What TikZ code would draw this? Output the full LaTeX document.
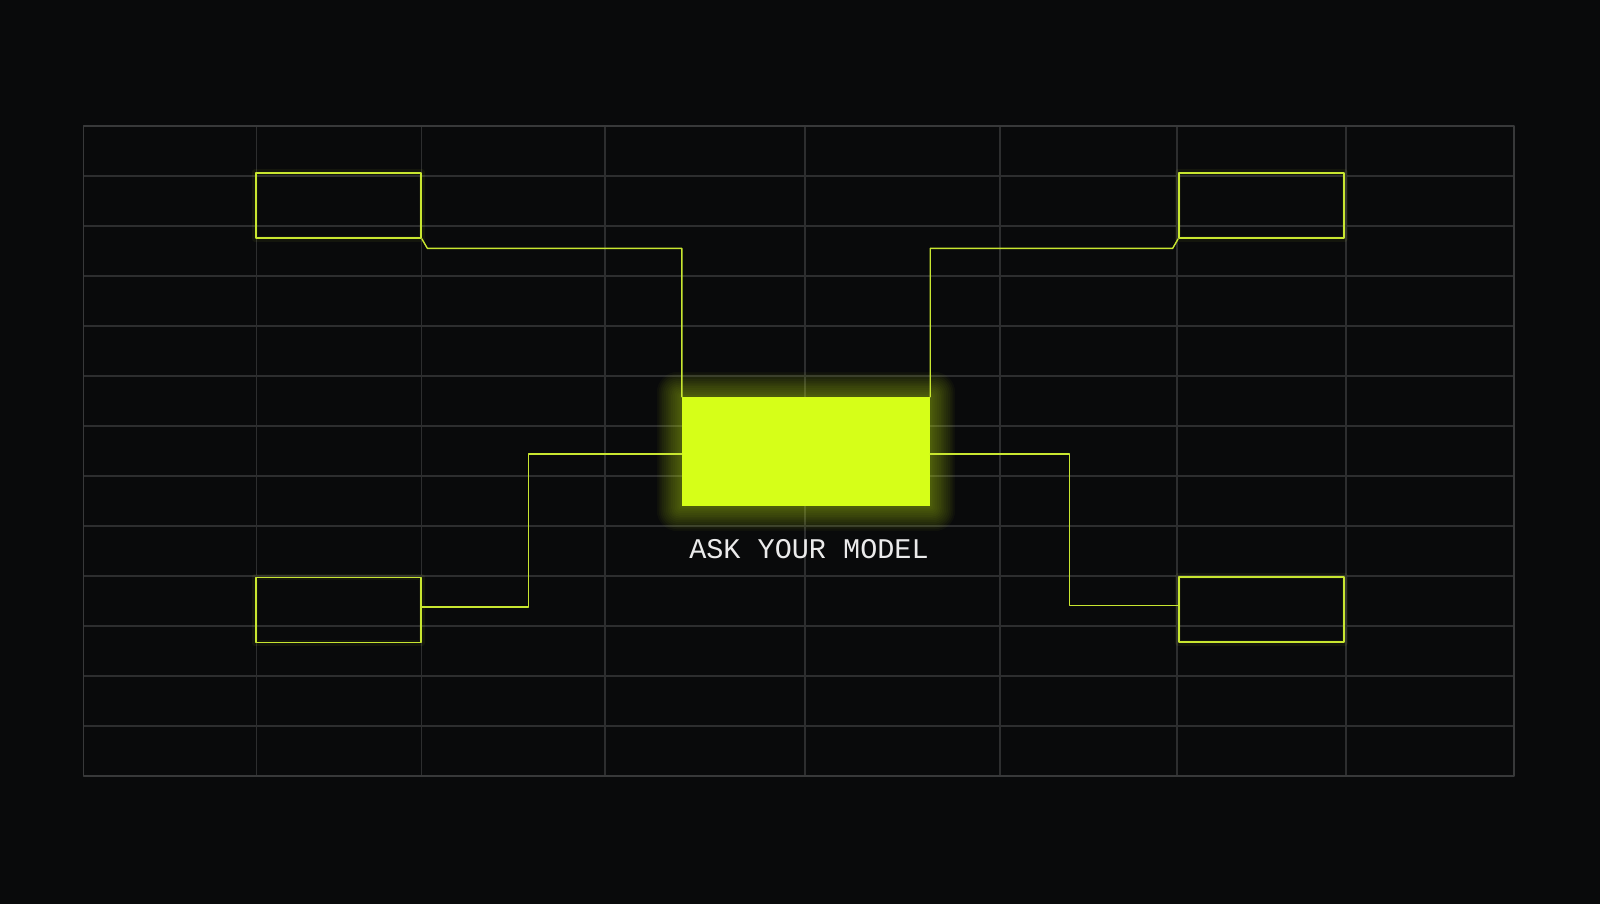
\documentclass[tikz,border=0pt]{standalone}
\usepackage{fontspec}
\newfontfamily\monofont{Liberation Mono}
\definecolor{bgdark}{RGB}{9,10,11}
\definecolor{gridgray}{RGB}{45,46,47}
\definecolor{gridedge}{RGB}{56,57,58}
\definecolor{lime}{RGB}{214,255,24}
\definecolor{limeline}{RGB}{200,230,48}
\begin{document}
\begin{tikzpicture}[x=1pt,y=-1pt,line join=round,line cap=round,
	outbox/.style={draw=limeline,line width=1.8pt,minimum width=165pt,minimum height=65pt,inner sep=0pt},
	corebox/.style={fill=lime,minimum width=248pt,minimum height=109pt,inner sep=0pt},
	wire/.style={draw=limeline,line width=1.4pt},
	halo/.style={draw=limeline,line width=6pt,opacity=.06}]
			\fill [bgdark] (0,0) rectangle (1600,904);
			\useasboundingbox (0,0) rectangle (1600,904);
			% grid
			\foreach \k in {1,...,12} \draw [gridgray,line width=1.1pt] (83.5,126+50*\k)--(1514,126+50*\k);
			\foreach \xx in {256.5,421.5,605,805,1000,1177,1346} \draw [gridgray,line width=1.1pt] (\xx,126)--(\xx,776);
			\draw [gridedge,line width=1.3pt] (83.5,126) rectangle (1514,776);
			% glow of the centre box
			\foreach \g in {1,...,14} \fill [lime,opacity=.03,rounded corners=1.5*\g pt] (682-1.8*\g,397-1.8*\g) rectangle (930+1.8*\g,506+1.8*\g);
			\node [corebox] (model) at (806,451.5) {};
			\node [font=\monofont\fontsize{28.5}{31}\selectfont,text=white!92!black] (label) at (809,549) {ASK YOUR MODEL};
			% the four outlined boxes
			\foreach \n/\px/\py in {tl/338.5/205.5,tr/1261.5/205.5,bl/338.5/610,br/1261.5/609.5} {
				\node [outbox] (\n) at (\px,\py) {};
				\draw [halo] (\n.north west) rectangle (\n.south east);
			}
			\coordinate (lx) at (528.6,0);
			\coordinate (rx) at (1069.3,0);
			\draw [wire] (tl.south east)--++(5.5,9.5)-|(model.north west);
			\draw [wire] (tr.south west)--++(-5.5,9.5)-|(model.north east);
			\draw [wire] ([yshift=-2.5pt]model.west)-|([yshift=3pt]lx|-bl.east)--([yshift=3pt]bl.east);
			\draw [wire] ([yshift=-2.5pt]model.east)-|([yshift=4pt]rx|-br.west)--([yshift=4pt]br.west);
		\end{tikzpicture}
\end{document}
